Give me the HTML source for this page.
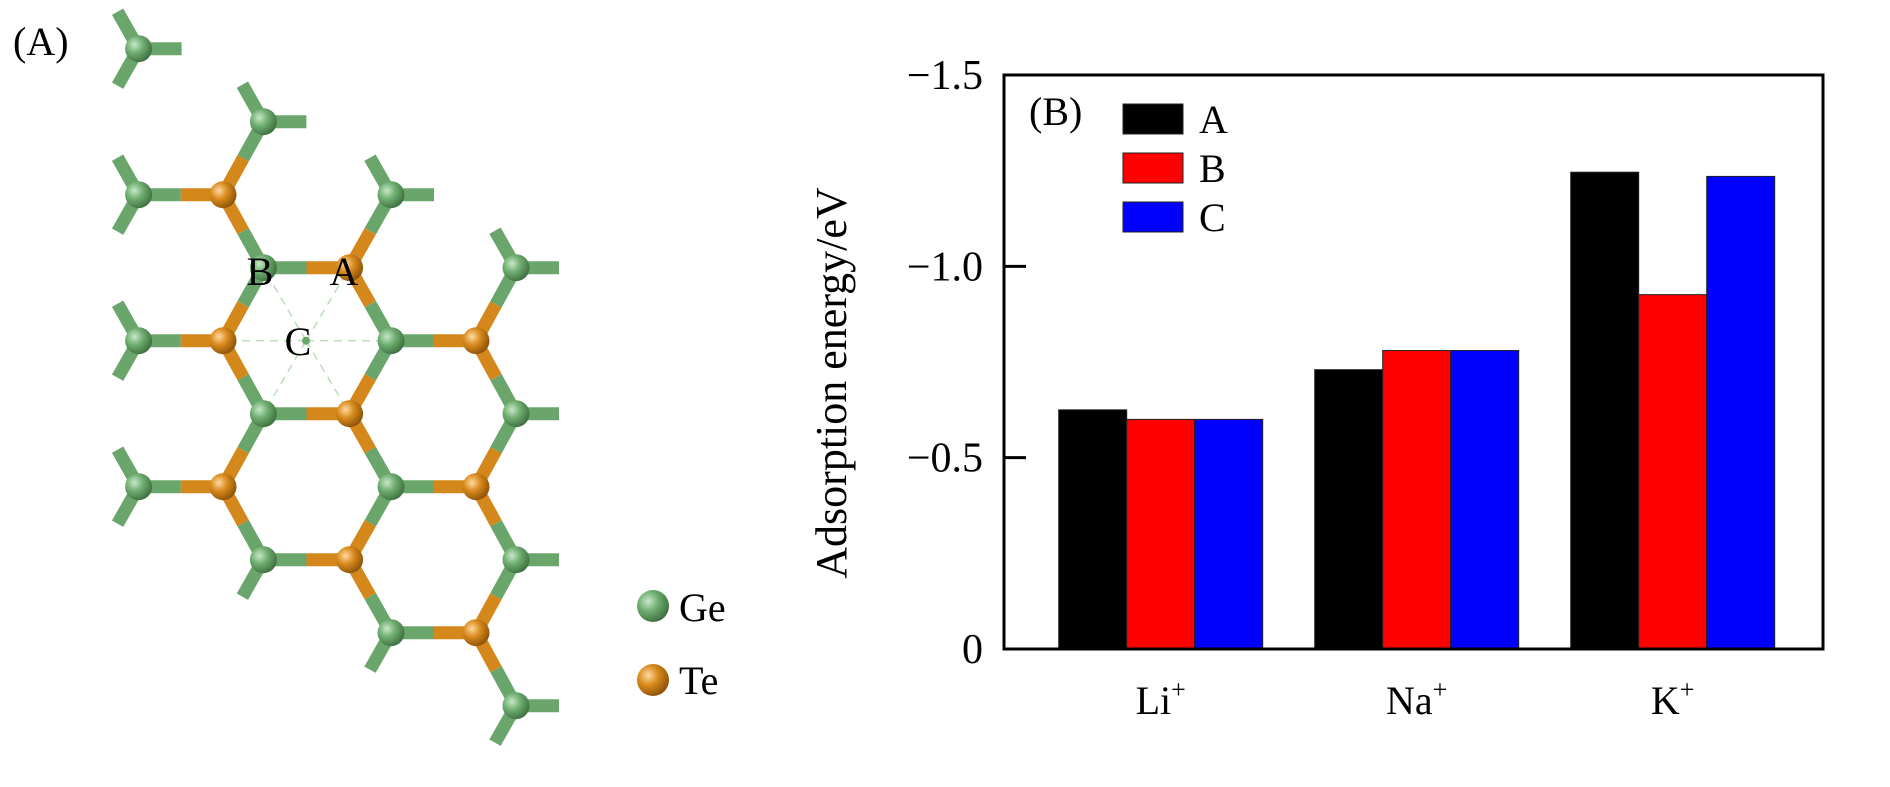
<!DOCTYPE html>
<html><head><meta charset="utf-8"><style>
html,body{margin:0;padding:0;background:#fff;}
svg{display:block;}
text{font-family:"Liberation Serif","Times New Roman",serif;}
</style></head><body>
<svg id="fig" width="1890" height="787" viewBox="0 0 1890 787" xmlns="http://www.w3.org/2000/svg">
  <defs>
    <radialGradient id="gGe" cx="35%" cy="35%" r="70%"><stop offset="0" stop-color="#c8e8c8"/><stop offset="0.45" stop-color="#6fae70"/><stop offset="1" stop-color="#3e6e40"/></radialGradient>
    <radialGradient id="gTe" cx="35%" cy="35%" r="70%"><stop offset="0" stop-color="#ffd9a0"/><stop offset="0.45" stop-color="#d98a1c"/><stop offset="1" stop-color="#8a5208"/></radialGradient>
  </defs>
  <g id="panelA">
    <text x="13" y="55" font-size="40">(A)</text>
    <g id="bonds"></g>
    <g id="dashes"></g>
    <g id="atoms"></g>
    <text x="260" y="285" font-size="40" text-anchor="middle">B</text>
    <text x="344" y="285" font-size="40" text-anchor="middle">A</text>
    <text x="298" y="355" font-size="40" text-anchor="middle">C</text>
    <g>
      <circle cx="653" cy="606" r="16" fill="url(#gGe)"/>
      <text x="679" y="621" font-size="40">Ge</text>
    </g>
    <g>
      <circle cx="653" cy="680" r="16" fill="url(#gTe)"/>
      <text x="679" y="694" font-size="40">Te</text>
    </g>
  </g>
  <g id="panelB">
    <text x="846" y="383" font-size="44" text-anchor="middle" transform="rotate(-90 846 383)">Adsorption energy/eV</text>
    <g id="bars"></g>
    <g id="yticks"></g>
    <g id="xlabels"></g>
    <rect x="1004" y="75" width="819" height="574" fill="none" stroke="#000" stroke-width="3"/>
    <text x="1029" y="125" font-size="40">(B)</text>
    <g id="legend"></g>
  </g>
</svg>
<script>
const categories = ["Li", "Na", "K"];
const seriesNames = ["A", "B", "C"];
const seriesA = [0.625, 0.73, 1.246];
const seriesB = [0.60, 0.78, 0.926];
const seriesC = [0.60, 0.78, 1.235];
const yTicks = [0, -0.5, -1.0, -1.5];
const yTickLabels = ["0", "\u22120.5", "\u22121.0", "\u22121.5"];

const NS = "http://www.w3.org/2000/svg";
function mk(tag, attrs, parent) { const e = document.createElementNS(NS, tag); for (const k in attrs) e.setAttribute(k, attrs[k]); parent.appendChild(e); return e; }

const plotBottom = 649, plotTop = 75, yMax = 1.5;
function yScale(v) { return plotBottom - (Math.abs(v) / yMax) * (plotBottom - plotTop); }
function xCenter(i) { return 1160.7 + 256 * i; }
const barW = 68;
const colors = ["#000000", "#ff0000", "#0000ff"];
const series = [seriesA, seriesB, seriesC];

const barsG = document.getElementById("bars");
series.forEach((s, si) => {
  s.forEach((v, ci) => {
    const x = xCenter(ci) - 1.5 * barW + si * barW;
    const y = yScale(v);
    const r = mk("rect", { x: x, y: y, width: barW, height: plotBottom - y, fill: colors[si], stroke: "#222", "stroke-width": 1 }, barsG);
    
    
  });
});

const yg = document.getElementById("yticks");
yTicks.forEach((t, i) => {
  const y = yScale(t);
  const l = mk("line", { x1: 1004, x2: 1026, y1: y, y2: y, stroke: "#000", "stroke-width": 3 }, yg);
  
  
  const tx = mk("text", { x: 983, y: y + 14, "font-size": 42, "text-anchor": "end" }, yg);
  tx.textContent = yTickLabels[i];
  
  
});

const xg = document.getElementById("xlabels");
categories.forEach((c, i) => {
  const t = mk("text", { x: xCenter(i), y: 714, "font-size": 40, "text-anchor": "middle" }, xg);
  t.textContent = c;
  const sup = mk("tspan", { "font-size": 26, dy: -16 }, t);
  sup.textContent = "+";
  
  
});

const lg = document.getElementById("legend");
seriesNames.forEach((n, i) => {
  const y = 104 + i * 49;
  const r = mk("rect", { x: 1123, y: y, width: 60, height: 30, fill: colors[i], stroke: "#222", "stroke-width": 1 }, lg);
  
  
  const t = mk("text", { x: 1199, y: y + 29, "font-size": 40 }, lg);
  t.textContent = n;
  
  
});

const X = [138.6, 223, 263.4, 349.6, 391, 476, 516];
function Y(r) { return 48.7 + 73.0 * r; }
const GE = "#6aa56b", TE = "#d4881c";
const atoms = {
  "0,0":"Ge","2,1":"Ge","0,2":"Ge","1,2":"Te","4,2":"Ge","2,3":"Ge","3,3":"Te","6,3":"Ge",
  "0,4":"Ge","1,4":"Te","4,4":"Ge","5,4":"Te","2,5":"Ge","3,5":"Te","6,5":"Ge",
  "0,6":"Ge","1,6":"Te","4,6":"Ge","5,6":"Te","2,7":"Ge","3,7":"Te","6,7":"Ge",
  "4,8":"Ge","5,8":"Te","6,9":"Ge"
};
const bonds = [
  [1,2,2,1],[1,2,2,3],[1,4,2,3],[1,4,2,5],[1,6,2,5],[1,6,2,7],
  [3,3,4,2],[3,3,4,4],[3,5,4,4],[3,5,4,6],[3,7,4,6],[3,7,4,8],
  [5,4,6,3],[5,4,6,5],[5,6,6,5],[5,6,6,7],[5,8,6,7],[5,8,6,9],
  [0,2,1,2],[0,4,1,4],[0,6,1,6],[2,3,3,3],[2,5,3,5],[2,7,3,7],[4,4,5,4],[4,6,5,6],[4,8,5,8]
];
const stubs = [[0,0,"R"],[0,0,"UL"],[0,0,"DL"],[0,2,"UL"],[0,2,"DL"],[0,4,"UL"],[0,4,"DL"],[0,6,"UL"],[0,6,"DL"],
  [2,1,"R"],[2,1,"UL"],[4,2,"R"],[4,2,"UL"],[6,3,"R"],[6,3,"UL"],[6,5,"R"],[6,7,"R"],[2,7,"DL"],[4,8,"DL"],[6,9,"R"],[6,9,"DL"]];
const bg = document.getElementById("bonds");
function seg(x1,y1,x2,y2,col){ mk("line",{x1:x1,y1:y1,x2:x2,y2:y2,stroke:col,"stroke-width":13,"stroke-linecap":"butt"},bg); }
bonds.forEach(b => {
  const x1=X[b[0]], y1=Y(b[1]), x2=X[b[2]], y2=Y(b[3]);
  const mx=(x1+x2)/2, my=(y1+y2)/2;
  seg(x1,y1,mx,my, atoms[b[0]+","+b[1]]==="Te"?TE:GE);
  seg(mx,my,x2,y2, atoms[b[2]+","+b[3]]==="Te"?TE:GE);
});
stubs.forEach(s => {
  const x=X[s[0]], y=Y(s[1]);
  let dx=0, dy=0;
  if (s[2]==="R") { dx=43; } else if (s[2]==="UL") { dx=-21; dy=-37; } else { dx=-21; dy=37; }
  seg(x,y,x+dx,y+dy,GE);
});
const dg = document.getElementById("dashes");
const cx = 306, cy = Y(4);
[[2,3],[3,3],[4,4],[3,5],[2,5],[1,4]].forEach(v => {
  mk("line",{x1:cx,y1:cy,x2:X[v[0]],y2:Y(v[1]),stroke:"#b8e0b8","stroke-width":1.5,"stroke-dasharray":"8,6"},dg);
});
mk("circle",{cx:cx,cy:cy,r:4,fill:GE},dg);
const ag = document.getElementById("atoms");
for (const k in atoms) {
  const [c,r] = k.split(",").map(Number);
  const a = mk("circle",{cx:X[c],cy:Y(r),r:13.5,fill: atoms[k]==="Te"?"url(#gTe)":"url(#gGe)"},ag);
  
  
}
</script>
</body></html>
